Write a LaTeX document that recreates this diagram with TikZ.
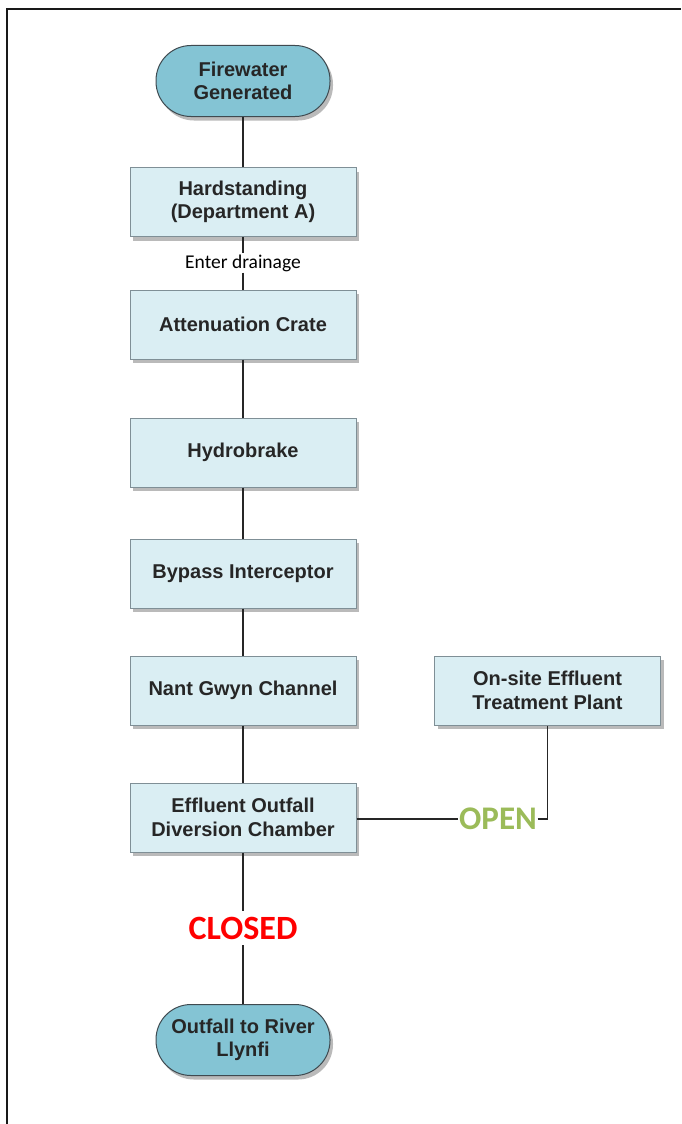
\documentclass[tikz,border=0pt]{standalone}
\usepackage{fontspec}
\setmainfont{Liberation Sans}
\newfontfamily\calib{Carlito}
\usetikzlibrary{shadows}
\definecolor{boxfill}{HTML}{DAEEF3}
\definecolor{boxline}{HTML}{7F8F96}
\definecolor{termfill}{HTML}{84C4D4}
\definecolor{termline}{HTML}{3F4A50}
\definecolor{opengreen}{HTML}{9BBB59}
\definecolor{closedred}{HTML}{FF0000}
\begin{document}
\begin{tikzpicture}[x=1pt,y=-1pt,
  procbox/.style={draw=boxline, line width=1pt, fill=boxfill, minimum width=226pt, minimum height=69pt,
    align=center, font=\fontsize{20}{23.5}\selectfont\bfseries, text=black!85,
    drop shadow={shadow xshift=3pt, shadow yshift=-4pt, opacity=0.45, fill=black!60}},
  term/.style={draw=termline, line width=1pt, fill=termfill, minimum width=174pt, minimum height=71pt,
    rounded corners=35pt, align=center, font=\fontsize{20}{23.5}\selectfont\bfseries, text=black!85,
    drop shadow={shadow xshift=3pt, shadow yshift=-4pt, opacity=0.45, fill=black!60}},
  conn/.style={draw=black!85, line width=1.6pt},
  flowlabel/.style={inner sep=1pt}]
\fill[white] (0,0) rectangle (681,1124);
\useasboundingbox (0,0) rectangle (681,1124);
\draw[black!90, line width=2.5pt] (7,1124) -- (7,9) -- (681,9);

\node[term] (fw) at (243,81) {Firewater\\Generated};
\node[procbox] (hs) at (243,202) {Hardstanding\\(Department A)};
\node[flowlabel, font=\calib\fontsize{19.5}{21}\selectfont, inner sep=1pt] (ed) at (243,263) {Enter drainage};
\node[procbox] (att) at (243,324.5) {Attenuation Crate};
\node[procbox] (hyd) at (243,452.5) {Hydrobrake};
\node[procbox] (byp) at (243,573.5) {Bypass Interceptor};
\node[procbox] (nant) at (243,690.5) {Nant Gwyn Channel};
\node[procbox] (div) at (243,817.5) {Effluent Outfall\\Diversion Chamber};
\node[procbox] (ots) at (547.5,690.5) {On-site Effluent\\Treatment Plant};
\node[flowlabel, font=\calib\bfseries\fontsize{33}{34}\selectfont, text=opengreen, inner sep=0.5pt] (open) at (498,819) {OPEN};
\node[flowlabel, font=\calib\bfseries\fontsize{34}{35}\selectfont, text=closedred, inner sep=6pt] (closed) at (243,928) {CLOSED};
\node[term] (out) at (243,1040) {Outfall to River\\Llynfi};

\draw[conn] (fw) -- (hs);
\draw[conn] (hs) -- (ed);
\draw[conn] (ed) -- (att);
\draw[conn] (att) -- (hyd);
\draw[conn] (hyd) -- (byp);
\draw[conn] (byp) -- (nant);
\draw[conn] (nant) -- (div);
\draw[conn] (div) -- (closed);
\draw[conn] (closed) -- (out);
\draw[conn] (div.east |- open.west) -- (open.west);
\draw[conn] (open.east) -| (ots.south);
\end{tikzpicture}
\end{document}
